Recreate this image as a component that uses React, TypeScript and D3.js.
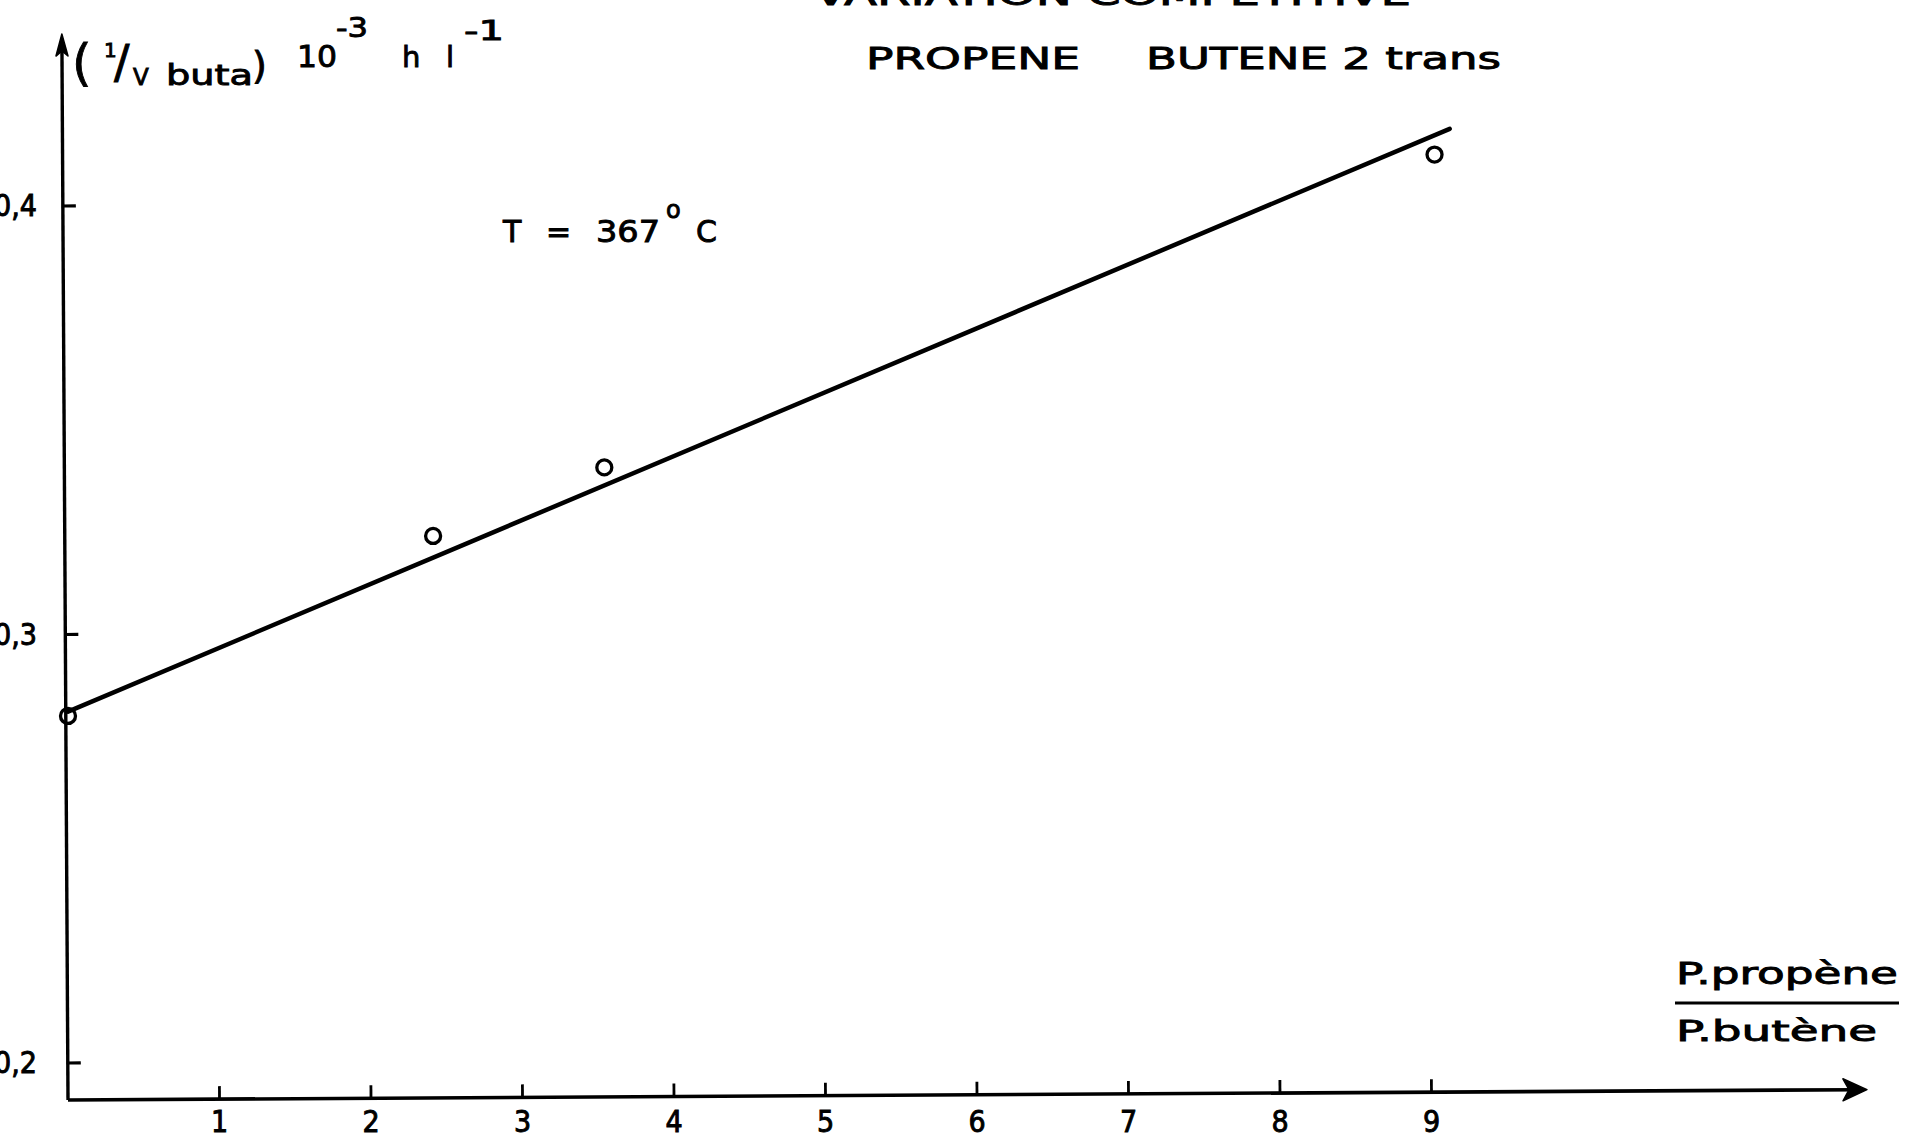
import React, { useEffect, useRef } from "react";
import * as d3 from "d3";

// values
const ratio = [0, 2.41, 3.54, 9.02];
const invRate = [0.281, 0.323, 0.339, 0.412];
const fitX = [0, 9.12];
const fitY = [0.282, 0.418];
const xTicks = [1, 2, 3, 4, 5, 6, 7, 8, 9];
const yTicks = [0.2, 0.3, 0.4];
const yTickLabels = ["0,2", "0,3", "0,4"];

const FONT = "'DejaVu Sans', sans-serif";
const FONT_C = "'DejaVu Sans Condensed', 'DejaVu Sans', sans-serif";

export default function App() {
  const ref = useRef<SVGSVGElement>(null);

  useEffect(() => {
    const width = 1906;
    const height = 1140;
    const x0 = 68;
    const y0 = 1100;
    const yTop = 34;
    const xEnd = 1867;

    const svg = d3.select(ref.current).attr("width", width).attr("height", height);
    svg.selectAll("*").remove();
    svg.append("rect").attr("width", width).attr("height", height).attr("fill", "#fff");

    const xScale = d3.scaleLinear().domain([0, 9]).range([x0, 1431.5]);
    const yScale = d3.scaleLinear().domain([0.2, 0.4]).range([1063, 206]);

    // the scanned axes are tilted a little
    const axes = svg.append("g").attr("transform", `rotate(-0.33, ${x0}, ${y0})`);

    // y axis
    axes.append("line")
      .attr("x1", x0).attr("y1", y0).attr("x2", x0).attr("y2", yTop + 12)
      .attr("stroke", "#000").attr("stroke-width", 3.4);
    axes.append("path")
      .attr("d", `M${x0},${yTop} L${x0 - 6},${yTop + 22} L${x0},${yTop + 17} L${x0 + 6},${yTop + 22} Z`)
      .attr("fill", "#000").attr("stroke", "#000").attr("stroke-width", 1.5).attr("stroke-linejoin", "round");

    axes.selectAll(".ytick").data(yTicks).join("line").attr("class", "ytick")
      .attr("x1", x0).attr("x2", x0 + 13)
      .attr("y1", d => yScale(d)).attr("y2", d => yScale(d))
      .attr("stroke", "#000").attr("stroke-width", 3.2);

    // x axis
    axes.append("line")
      .attr("x1", x0).attr("y1", y0).attr("x2", xEnd - 10).attr("y2", y0)
      .attr("stroke", "#000").attr("stroke-width", 3.6);
    axes.append("path")
      .attr("d", `M${xEnd},${y0} L${xEnd - 24},${y0 - 11} L${xEnd - 18},${y0} L${xEnd - 24},${y0 + 11} Z`)
      .attr("fill", "#000").attr("stroke", "#000").attr("stroke-width", 1.5).attr("stroke-linejoin", "round");

    axes.selectAll(".xtick").data(xTicks).join("line").attr("class", "xtick")
      .attr("x1", d => xScale(d)).attr("x2", d => xScale(d))
      .attr("y1", y0).attr("y2", y0 - 13)
      .attr("stroke", "#000").attr("stroke-width", 2.8);

    // tick labels
    svg.selectAll(".xlab").data(xTicks).join("text").attr("class", "xlab")
      .attr("x", d => xScale(d)).attr("y", 1132)
      .attr("text-anchor", "middle")
      .attr("font-family", FONT_C).attr("font-size", 30)
      .attr("stroke", "#000").attr("stroke-width", 0.9)
      .text(d => String(d));

    svg.selectAll(".ylab").data(yTicks).join("text").attr("class", "ylab")
      .attr("x", 37).attr("y", d => yScale(d) + 10)
      .attr("text-anchor", "end")
      .attr("font-family", FONT_C).attr("font-size", 30)
      .attr("stroke", "#000").attr("stroke-width", 0.9)
      .text((d, i) => yTickLabels[i]);

    // fitted line
    const line = d3.line<number>().x(d => xScale(d)).y((d, i) => yScale(fitY[i]));
    svg.append("path").datum(fitX).attr("d", line)
      .attr("fill", "none").attr("stroke", "#000").attr("stroke-width", 4.5)
      .attr("stroke-linecap", "round");

    // measured points
    svg.selectAll(".pt").data(ratio).join("circle").attr("class", "pt")
      .attr("cx", d => xScale(d)).attr("cy", (d, i) => yScale(invRate[i]))
      .attr("r", 7.5)
      .attr("fill", "none").attr("stroke", "#000").attr("stroke-width", 3.3);

    const txt = (s: string, x: number, y: number, size: number, len?: number, family = FONT) => {
      const t = svg.append("text").attr("x", x).attr("y", y)
        .attr("font-family", family).attr("font-size", size)
        .attr("stroke", "#000").attr("stroke-width", 0.9)
        .text(s);
      if (len) t.attr("textLength", len).attr("lengthAdjust", "spacingAndGlyphs");
      return t;
    };

    // titles
    txt("VARIATION  COMPETITIVE", 814, 5, 31, 597);
    txt("PROPENE", 866, 69, 31, 214);
    txt("BUTENE 2 trans", 1146, 69, 31, 355);

    // temperature
    txt("T", 503, 242, 30);
    txt("=", 546, 242, 30);
    txt("367", 596, 242, 30, 64);
    txt("o", 666, 218, 24);
    txt("C", 696, 242, 30);

    // y axis label
    txt("(", 72, 80, 50);
    txt("1", 104, 57, 20);
    txt("/", 114, 78, 46);
    txt("V", 133, 85, 23);
    txt("buta", 166, 85, 29, 87);
    txt(")", 252, 78, 38);
    txt("10", 297, 67, 30, 40);
    txt("-3", 336, 37, 27, 32);
    txt("h", 402, 67, 29);
    txt("l", 446, 67, 29);
    txt("-1", 464, 40, 27, 40);

    // x axis label
    txt("P.propène", 1676, 984, 30, 222);
    svg.append("line")
      .attr("x1", 1675).attr("x2", 1899).attr("y1", 1003).attr("y2", 1003)
      .attr("stroke", "#000").attr("stroke-width", 3.2);
    txt("P.butène", 1676, 1041, 29, 201);
  }, []);

  return (
    <svg ref={ref} style={{ position: "absolute", left: 0, top: 0, display: "block" }} />
  );
}
